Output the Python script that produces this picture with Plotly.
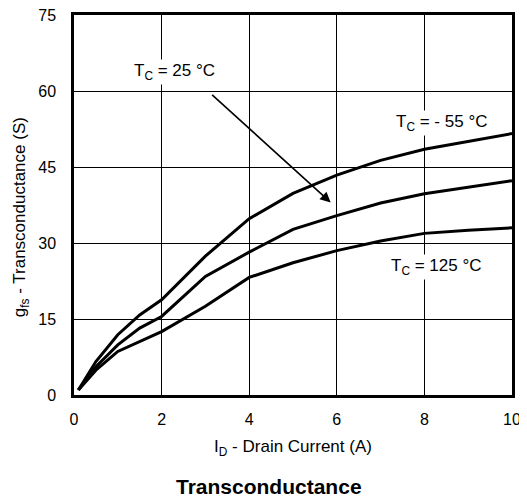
import plotly.graph_objects as go

# Data
drain_current = [0.1, 0.5, 1, 1.5, 2, 3, 4, 5, 6, 7, 8, 9, 10]
gfs_m55 = [1, 6.6, 11.9, 15.8, 18.8, 27.4, 34.8, 39.8, 43.4, 46.3, 48.5, 50.1, 51.6]
gfs_25 = [1, 5.6, 9.9, 13.2, 15.5, 23.4, 28.2, 32.7, 35.4, 37.9, 39.7, 41.0, 42.3]
gfs_125 = [1, 4.9, 8.6, 10.6, 12.5, 17.5, 23.2, 26.1, 28.5, 30.4, 31.9, 32.5, 33.0]

x_ticks = [0, 2, 4, 6, 8, 10]
y_ticks = [0, 15, 30, 45, 60, 75]

FONT = "Liberation Sans, Arial, Helvetica, sans-serif"

fig = go.Figure()
for name, ys in [("-55", gfs_m55), ("25", gfs_25), ("125", gfs_125)]:
    fig.add_trace(go.Scatter(x=drain_current, y=ys, mode="lines",
                             line=dict(color="black", width=3),
                             name=name, showlegend=False))

axis_common = dict(showline=True, linecolor="black", linewidth=2.5, mirror=True,
                   showgrid=True, gridcolor="black", gridwidth=1.2, automargin=False,
                   zeroline=False, ticks="", ticklabeloverflow="allow",
                   tickfont=dict(family=FONT, size=16, color="black"))

fig.update_xaxes(range=[0, 10], tickvals=x_ticks, ticktext=[str(v) for v in x_ticks],
                 title=dict(text="I<sub>D</sub> - Drain Current (A)",
                            font=dict(family=FONT, size=17, color="black"), standoff=14),
                 ticklabelstandoff=8, **axis_common)
fig.update_yaxes(range=[0, 75], tickvals=y_ticks, ticktext=[str(v) for v in y_ticks],
                 ticklabelstandoff=12, **axis_common)

# y-axis title placed as rotated text (it sits slightly below the plot centre in the reference)
fig.add_annotation(x=-0.1217, y=0.467, xref="paper", yref="paper", textangle=-90,
                   xanchor="center", yanchor="middle", showarrow=False,
                   text="g<sub>fs</sub> - Transconductance (S)",
                   font=dict(family=FONT, size=17, color="black"))

ann_font = dict(family=FONT, size=17, color="black")
fig.add_annotation(x=2.29, y=63.8, xref="x", yref="y", text="T<sub>C</sub> = 25 °C",
                   showarrow=False, bgcolor="white", font=ann_font)
fig.add_annotation(x=5.86, y=38.0, ax=3.12, ay=59.5, xref="x", yref="y",
                   axref="x", ayref="y", text="", showarrow=True,
                   arrowhead=2, arrowsize=1.3, arrowwidth=1.6, arrowcolor="black")
fig.add_annotation(x=8.38, y=53.7, xref="x", yref="y", text="T<sub>C</sub> = - 55 °C",
                   showarrow=False, bgcolor="white", font=ann_font)
fig.add_annotation(x=8.28, y=25.3, xref="x", yref="y", text="T<sub>C</sub> = 125 °C",
                   showarrow=False, bgcolor="white", font=ann_font)

fig.add_annotation(x=0.445, y=-0.242, xref="paper", yref="paper", yanchor="middle",
                   xanchor="center", text="<b>Transconductance</b>", showarrow=False,
                   font=dict(family=FONT, size=21, color="black"))

# the page body adds an 8 px margin, so the figure is sized to fill the rest of the window
fig.update_layout(width=519, height=494,
                  margin=dict(l=66, r=15, t=7, b=107),
                  plot_bgcolor="white", paper_bgcolor="white")

fig.write_html("out.html")
